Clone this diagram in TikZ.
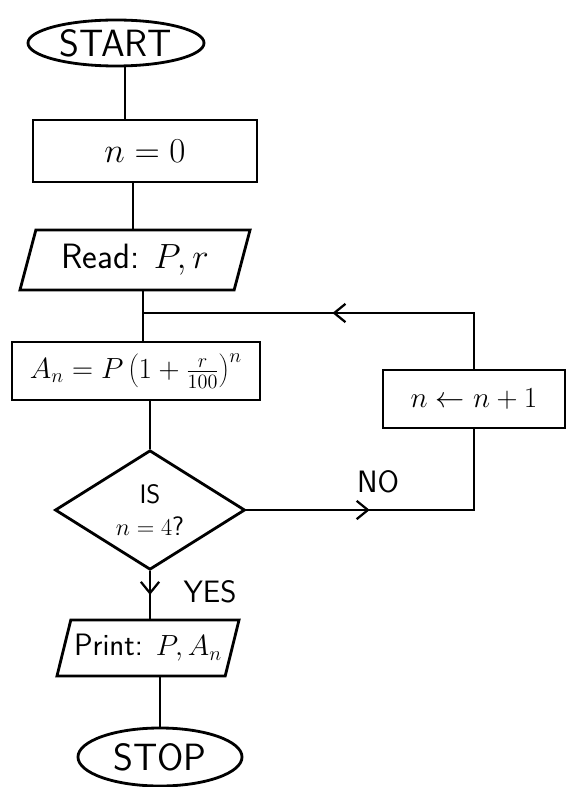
\documentclass[tikz,border=0pt]{standalone}
\usetikzlibrary{shapes.geometric,arrows.meta,decorations.markings}

\tikzset{
    chart/.style={line width=2pt, font=\fontsize{22}{26}\selectfont\sffamily},
    big/.style={font=\fontsize{27}{30}\selectfont\sffamily},
    terminal/.style={draw, ellipse, minimum width=4.4cm, minimum height=1.15cm, inner sep=0pt, big},
    process/.style={draw, rectangle, inner sep=0pt},
    inout/.style={draw, trapezium, trapezium left angle=63, trapezium right angle=117,
        trapezium stretches body, inner sep=0pt},
    decision/.style={draw, diamond, minimum width=4.75cm, minimum height=2.75cm, inner sep=0pt,
        align=center, font=\fontsize{19}{21}\selectfont\sffamily},
    midtip/.style={postaction={decorate}, decoration={markings,
        mark=at position #1 with {\arrow{Straight Barb[length=8pt, width=13pt, line width=1.6pt]}}}},
}

\begin{document}
\begin{tikzpicture}[x=0.025cm, y=-0.025cm, chart]

    \useasboundingbox (0,0) rectangle (567,787);

    %% Main column
    \node[terminal] (start) at (116,43) {START};
    \node[process, big, minimum width=5.6cm, minimum height=1.55cm] (zero) at (145,151) {$n = 0$};
    \node[inout, font=\fontsize{25}{28}\selectfont\sffamily, minimum width=5.75cm, minimum height=1.5cm]
        (read) at (135,260) {Read: $P, r$};
    \node[process, minimum width=6.2cm, minimum height=1.45cm] (amount) at (136,371)
        {$A_n = P\left(1+\frac{r}{100}\right)^{n}$};
    \node[decision] (test) at (150,510) {IS\\[2pt] $n=4$?};
    \node[inout, minimum width=4.55cm, minimum height=1.4cm] (print) at (148,648) {Print: $P, A_n$};
    \node[terminal, minimum width=4.1cm, minimum height=1.45cm] (stop) at (160,757) {STOP};

    %% Loop
    \node[process, minimum width=4.55cm, minimum height=1.45cm] (step) at (474,399) {$n \leftarrow n+1$};
    \coordinate (join) at (143,313);

    \draw (start.south -| 125,0) -- (zero.north -| 125,0);
    \draw (zero.south -| 133,0) -- (read.north -| 133,0);
    \draw (read.south -| join) -- (amount.north -| join);
    \draw (amount.south -| test.north) -- (test.north);
    \draw[midtip=0.5] (test.south) -- (test.south |- print.north);
    \draw (print.south -| stop.north) -- (stop.north);

    \draw[midtip=0.51] (step.north) |- (join);
    \draw[midtip=0.4] (test.east) -- (step.south |- test.east) -- (step.south);

    %% Labels
    \node (no) at (378,482) {NO};
    \node (yes) at (210,592) {YES};

\end{tikzpicture}
\end{document}
